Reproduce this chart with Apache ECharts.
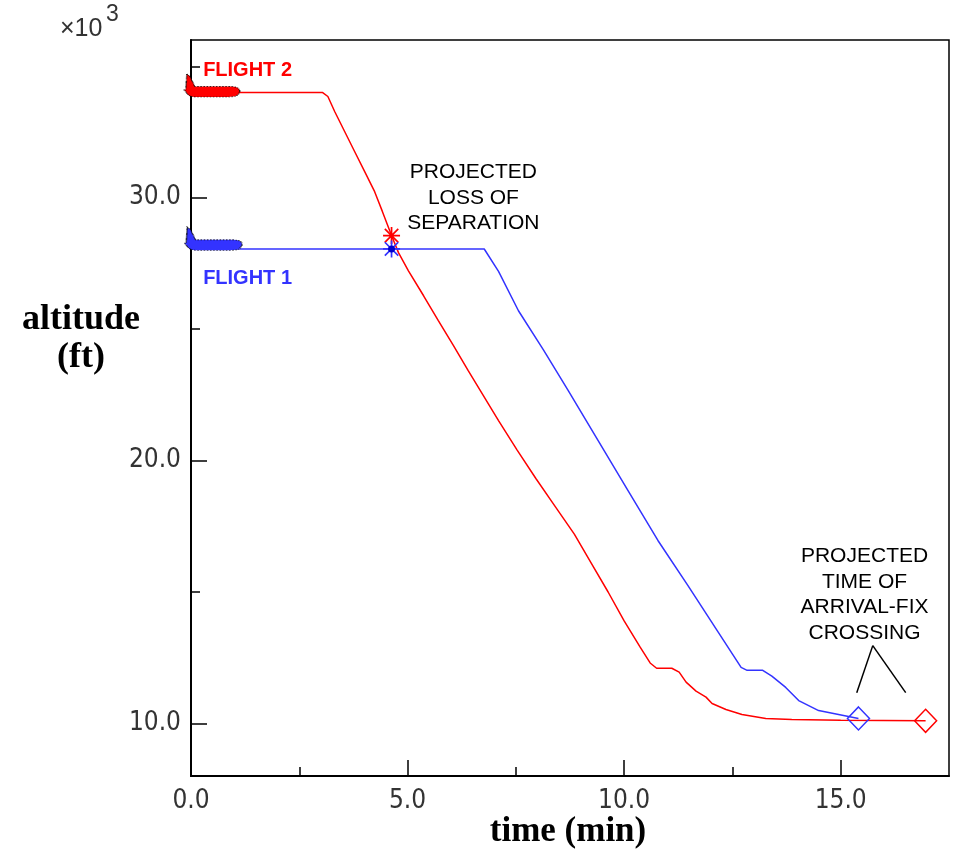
<!DOCTYPE html>
<html>
<head>
<meta charset="utf-8">
<script src="https://cdn.jsdelivr.net/npm/echarts@6/dist/echarts.min.js"></script>
<style>html,body{margin:0;padding:0;background:#fff}#c{width:957px;height:856px}</style>
</head>
<body>
<div id="c"></div>
<script>
// ---- data (time in min, altitude in thousands of ft) ----
const flight2 = [
  [0,34.0],[3.04,34.0],[3.16,33.85],[3.32,33.27],[3.55,32.51],[3.78,31.75],[4.01,30.99],
  [4.24,30.23],[4.42,29.47],[4.63,28.56],[4.79,27.91],[5.02,27.22],[5.37,26.27],[5.71,25.32],
  [6.06,24.37],[6.40,23.42],[6.75,22.47],[7.10,21.52],[7.53,20.4],[7.97,19.3],[8.41,18.25],
  [8.85,17.2],[9.24,16.1],[9.63,15.0],[10.0,13.9],[10.37,12.9],[10.6,12.3],[10.75,12.1],
  [11.1,12.1],[11.27,11.95],[11.43,11.57],[11.66,11.23],[11.89,11.0],[12.03,10.76],[12.35,10.53],
  [12.72,10.34],[13.27,10.19],[13.87,10.15],[15.0,10.12],[16.96,10.1]
];
const flight1 = [
  [0,28.05],[6.77,28.05],[7.1,27.2],[7.56,25.7],[8.14,24.2],[8.71,22.66],[9.4,20.76],
  [10.09,18.86],[10.78,16.96],[11.47,15.25],[12.16,13.5],[12.7,12.13],[12.84,12.02],[13.2,12.02],
  [13.41,11.8],[13.73,11.37],[14.03,10.87],[14.49,10.49],[14.95,10.34],[15.41,10.19]
];
const lossPoint2 = [[4.63,28.56]];
const lossPoint1 = [[4.63,28.05]];
const arrival1 = [[15.41,10.19]];
const arrival2 = [[16.96,10.1]];
const icon2 = [[0.48,34.27]];
const icon1 = [[0.51,28.44]];
const xMajorTicks = [0,5,10,15];
const xMinorTicks = [2.5,7.5,12.5];
const yMajorTicks = [10,20,30];
const yMinorTicks = [15,25,35];
const labelFlight2 = [[0.28,34.83]];
const labelFlight1 = [[0.28,26.92]];
const labelLoss = [[6.52,30.0]];
const labelArrival = [[15.55,14.9]];
const leaderApex = [15.74,12.96];
const leaderEnds = [[15.37,11.17],[16.5,11.17]];

const RED = '#ff0000', BLUE = '#3333ff';
const asterisk = 'path://M9,0 L11,0 L11,20 L9,20 Z M0,9 L20,9 L20,11 L0,11 Z M1.4,2.8 L2.8,1.4 L18.6,17.2 L17.2,18.6 Z M17.2,1.4 L18.6,2.8 L2.8,18.6 L1.4,17.2 Z';
const plane = 'path://M3,0 L6,2 L11,11 L47,11 C54,11 56,14 55,16 C53,20 48,20 44,20 L12,20 C6,20 3,18 2,15 L0,14 L2,13.5 Z';
const tickFont = {fontFamily:'Liberation Sans Narrow, DejaVu Sans Condensed, sans-serif', fontSize:26, color:'#333'};
const fmt = v => Number(v).toFixed(1);

function textSeries(data, text, style){
  return {type:'scatter', data:data, symbolSize:0, silent:true, z:10,
    itemStyle:{opacity:1},
    label:Object.assign({show:true, position:'inside', formatter:text, opacity:1,
      fontFamily:'Liberation Sans, Arial, sans-serif'}, style)};
}

const chart = echarts.init(document.getElementById('c'));
chart.setOption({
  animation:false,
  backgroundColor:'#fff',
  grid:{left:191, right:8, top:40, bottom:80, show:true, borderColor:'#000', borderWidth:1.5, backgroundColor:'transparent'},
  xAxis:[
    {type:'value', min:0, max:17.5, position:'bottom',
     axisLine:{show:true, onZero:false, lineStyle:{color:'#000', width:2}},
     axisTick:{show:true, inside:true, length:16, customValues:xMajorTicks, lineStyle:{color:'#000', width:1.5}},
     axisLabel:Object.assign({customValues:xMajorTicks, formatter:fmt, margin:12}, tickFont),
     splitLine:{show:false}},
    {type:'value', min:0, max:17.5, position:'bottom',
     axisLine:{show:false},
     axisTick:{show:true, inside:true, length:9, customValues:xMinorTicks, lineStyle:{color:'#000', width:1.5}},
     axisLabel:{show:false}, splitLine:{show:false}}
  ],
  yAxis:[
    {type:'value', min:8, max:36, position:'left',
     axisLine:{show:true, onZero:false, lineStyle:{color:'#000', width:2}},
     axisTick:{show:true, inside:true, length:16, customValues:yMajorTicks, lineStyle:{color:'#000', width:1.5}},
     axisLabel:Object.assign({customValues:yMajorTicks, formatter:fmt, margin:10}, tickFont),
     splitLine:{show:false}},
    {type:'value', min:8, max:36, position:'left',
     axisLine:{show:false},
     axisTick:{show:true, inside:true, length:9, customValues:yMinorTicks, lineStyle:{color:'#000', width:1.5}},
     axisLabel:{show:false}, splitLine:{show:false}}
  ],
  graphic:[
    {type:'text', left:60, top:17, style:{text:'×10', font:'25px "Liberation Sans Narrow", sans-serif', fill:'#333'}},
    {type:'text', left:106, top:3, style:{text:'3', font:'23px "Liberation Sans Narrow", sans-serif', fill:'#333'}},
    {type:'text', x:81, y:320, style:{text:'altitude', font:'bold 36px "Liberation Serif", "Times New Roman", serif', fill:'#000', align:'center', verticalAlign:'middle'}},
    {type:'text', x:81, y:358, style:{text:'(ft)', font:'bold 36px "Liberation Serif", "Times New Roman", serif', fill:'#000', align:'center', verticalAlign:'middle'}},
    {type:'text', x:568, y:832, style:{text:'time (min)', font:'bold 35px "Liberation Serif", "Times New Roman", serif', fill:'#000', align:'center', verticalAlign:'middle'}}
  ],
  series:[
    {type:'line', data:flight2, symbol:'none', showSymbol:false, lineStyle:{color:RED, width:1.5}, itemStyle:{color:RED}, z:3},
    {type:'line', data:flight1, symbol:'none', showSymbol:false, lineStyle:{color:BLUE, width:1.5}, itemStyle:{color:BLUE}, z:3},
    {type:'scatter', data:lossPoint2, symbol:asterisk, symbolSize:17, itemStyle:{color:RED, opacity:1}, z:5},
    {type:'scatter', data:lossPoint1, symbol:asterisk, symbolSize:17, itemStyle:{color:BLUE, opacity:1}, z:5},
    {type:'scatter', data:lossPoint1, symbol:'circle', symbolSize:7, itemStyle:{color:'#0000cc', opacity:1}, z:6},
    {type:'scatter', data:arrival1, symbol:'diamond', symbolSize:[22,23], itemStyle:{color:'rgba(0,0,0,0)', borderColor:BLUE, borderWidth:1.5, opacity:1}, z:5},
    {type:'scatter', data:arrival2, symbol:'diamond', symbolSize:[22,23], itemStyle:{color:'rgba(0,0,0,0)', borderColor:RED, borderWidth:1.5, opacity:1}, z:5},
    {type:'scatter', data:icon2, symbol:plane, symbolSize:[56,23], clip:false, itemStyle:{color:RED, borderColor:'#000', borderWidth:1, borderType:'dotted', opacity:1}, z:7},
    {type:'scatter', data:icon1, symbol:plane, symbolSize:[58,23], clip:false, itemStyle:{color:BLUE, borderColor:'#000', borderWidth:1, borderType:'dotted', opacity:1}, z:7},
    {type:'line', data:[], symbol:'none', markLine:{silent:true, symbol:'none', animation:false,
      lineStyle:{color:'#000', width:1.5, type:'solid'}, label:{show:false},
      data:leaderEnds.map(e => [{coord:leaderApex},{coord:e}])}},
    textSeries(labelFlight2, 'FLIGHT 2', {color:RED, fontWeight:'bold', fontSize:20, align:'left'}),
    textSeries(labelFlight1, 'FLIGHT 1', {color:BLUE, fontWeight:'bold', fontSize:20, align:'left'}),
    textSeries(labelLoss, 'PROJECTED\nLOSS OF\nSEPARATION', {color:'#000', fontSize:21, lineHeight:25.5, align:'center'}),
    textSeries(labelArrival, 'PROJECTED\nTIME OF\nARRIVAL-FIX\nCROSSING', {color:'#000', fontSize:21, lineHeight:25.7, align:'center'})
  ]
});
</script>
</body>
</html>
